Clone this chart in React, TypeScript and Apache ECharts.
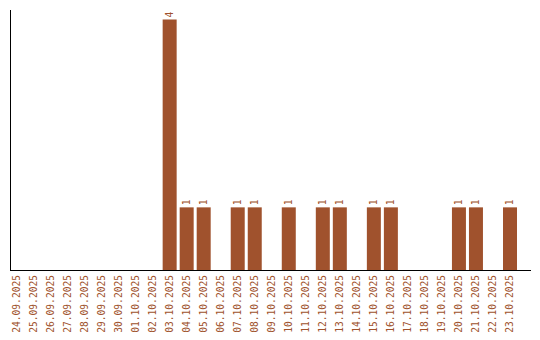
import React, { useEffect, useRef } from "react";
import * as echarts from "echarts";

const categories = [
  "24.09.2025", "25.09.2025", "26.09.2025", "27.09.2025", "28.09.2025",
  "29.09.2025", "30.09.2025", "01.10.2025", "02.10.2025", "03.10.2025",
  "04.10.2025", "05.10.2025", "06.10.2025", "07.10.2025", "08.10.2025",
  "09.10.2025", "10.10.2025", "11.10.2025", "12.10.2025", "13.10.2025",
  "14.10.2025", "15.10.2025", "16.10.2025", "17.10.2025", "18.10.2025",
  "19.10.2025", "20.10.2025", "21.10.2025", "22.10.2025", "23.10.2025",
];
const values = [
  0, 0, 0, 0, 0, 0, 0, 0, 0, 4,
  1, 1, 0, 1, 1, 0, 1, 0, 1, 1,
  0, 1, 1, 0, 0, 0, 1, 1, 0, 1,
];

const COLOR = "#a0522d";
const FONT = "DejaVu Sans Mono";

export default function App() {
  const ref = useRef<HTMLDivElement>(null);
  useEffect(() => {
    if (!ref.current) return;
    const chart = echarts.init(ref.current, null, { renderer: "svg" });
    chart.setOption({
      animation: false,
      grid: { left: 8, right: 21.5, top: 10, bottom: 70, containLabel: false },
      xAxis: {
        type: "category",
        data: categories,
        axisLine: { show: false },
        axisTick: { show: false },
        axisLabel: {
          rotate: 90,
          interval: 0,
          margin: 5,
          color: COLOR,
          fontFamily: FONT,
          fontSize: 9.6,
        },
      },
      yAxis: {
        type: "value",
        min: 0,
        max: 4.15,
        axisLine: { show: false },
        axisTick: { show: false },
        axisLabel: { show: false },
        splitLine: { show: false },
      },
      graphic: [
        { type: "line", shape: { x1: 10.5, y1: 10, x2: 10.5, y2: 270.5 }, style: { stroke: "#000", lineWidth: 1 } },
        { type: "line", shape: { x1: 10, y1: 270.5, x2: 531, y2: 270.5 }, style: { stroke: "#000", lineWidth: 1 } },
      ],
      series: [
        {
          type: "bar",
          data: values.map((v) => (v === 0 ? null : v)),
          barWidth: 14,
          itemStyle: { color: COLOR },
          label: {
            show: true,
            position: "top",
            rotate: 90,
            align: "left",
            verticalAlign: "middle",
            distance: 2,
            color: COLOR,
            fontFamily: FONT,
            fontSize: 9.6,
          },
        },
      ],
    });
    return () => chart.dispose();
  }, []);
  return <div ref={ref} style={{ width: 540, height: 340, margin: -8 }} />;
}
